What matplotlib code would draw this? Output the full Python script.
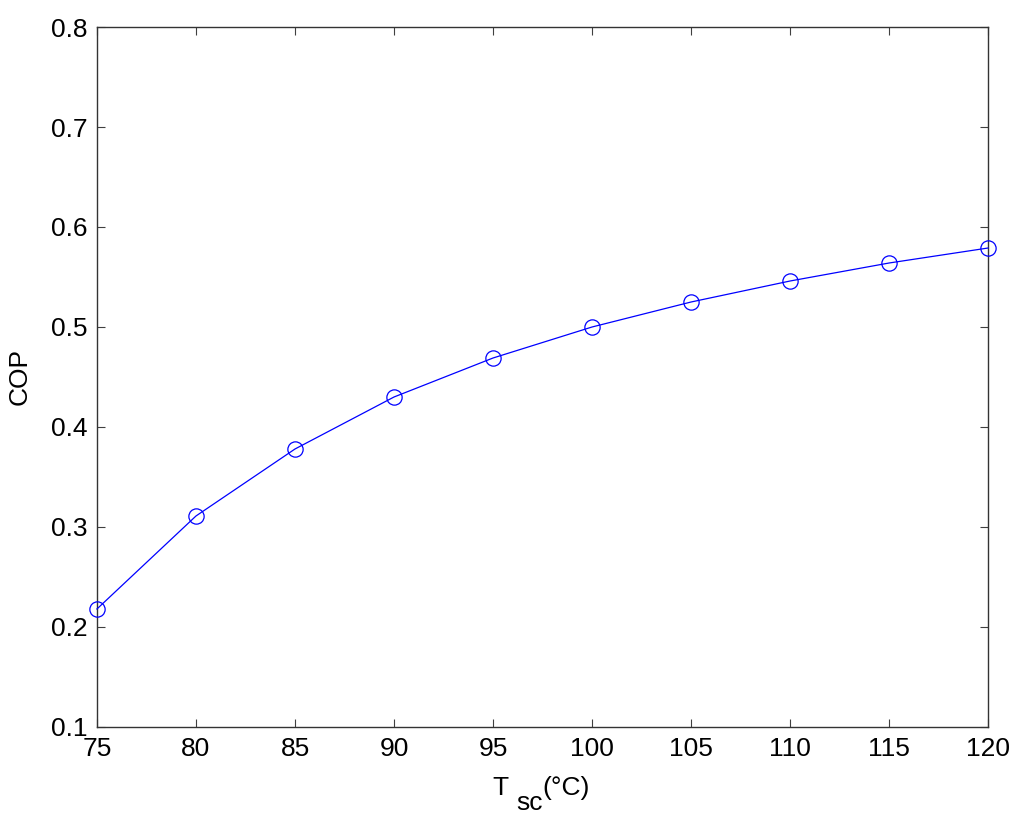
import matplotlib
matplotlib.use("Agg")
import matplotlib.pyplot as plt
from matplotlib.transforms import offset_copy

plt.rcParams['font.family'] = ['Liberation Sans', 'DejaVu Sans']

temps = [75, 80, 85, 90, 95, 100, 105, 110, 115, 120]
cop = [0.218, 0.311, 0.378, 0.430, 0.469, 0.500, 0.525, 0.546, 0.564, 0.579]
xticks = [75, 80, 85, 90, 95, 100, 105, 110, 115, 120]
yticks = [0.1, 0.2, 0.3, 0.4, 0.5, 0.6, 0.7, 0.8]

FS = 19
fig = plt.figure(figsize=(10.24, 8.26), dpi=100)
ax = fig.add_axes([0.0947, 0.1199, 0.8703, 0.8474])
ax.plot(temps, cop, color='#0000ff', linewidth=0.9, marker='o', markersize=11,
        markerfacecolor='none', markeredgecolor='#0000ff', markeredgewidth=0.9,
        clip_on=False, zorder=3)
ax.set_xlim(75, 120)
ax.set_ylim(0.1, 0.8)
ax.set_xticks(xticks)
ax.set_yticks(yticks)
ax.set_xticklabels([str(t) for t in xticks])
ax.set_yticklabels([f"{v:.1f}" for v in yticks])
ax.tick_params(direction='in', length=6, width=0.8, top=True, right=True,
               labelsize=FS, colors='#404040', labelcolor='black')
ax.tick_params(axis='x', pad=7.5)
ax.tick_params(axis='y', pad=6.5)
for s in ax.spines.values():
    s.set_linewidth(1.0)
    s.set_color('#333333')
ax.set_ylabel("COP", fontsize=FS, labelpad=14)

# x label: "T" + lowered full-size subscript "sc" + "(°C)"
fig.canvas.draw()
renderer = fig.canvas.get_renderer()
base_y = 1 - 795 / 826
t1 = fig.text(0.5, base_y, "T", fontsize=FS, va='baseline', ha='left')
t2 = fig.text(0.5, base_y, "sc", fontsize=FS, va='baseline', ha='left')
t3 = fig.text(0.5, base_y, "(°C)", fontsize=FS, va='baseline', ha='left')
w1 = t1.get_window_extent(renderer).width
w2 = t2.get_window_extent(renderer).width
w3 = t3.get_window_extent(renderer).width
gap = 8
total = w1 + gap + w2 + w3
x0 = 541 - total / 2
fig_w = fig.bbox.width
t1.set_x(x0 / fig_w)
t2.set_x((x0 + w1 + gap) / fig_w)
t2.set_y(1 - 810 / 826)
t3.set_x((x0 + w1 + gap + w2) / fig_w)

fig.savefig("out.png", dpi=100, facecolor='white')
